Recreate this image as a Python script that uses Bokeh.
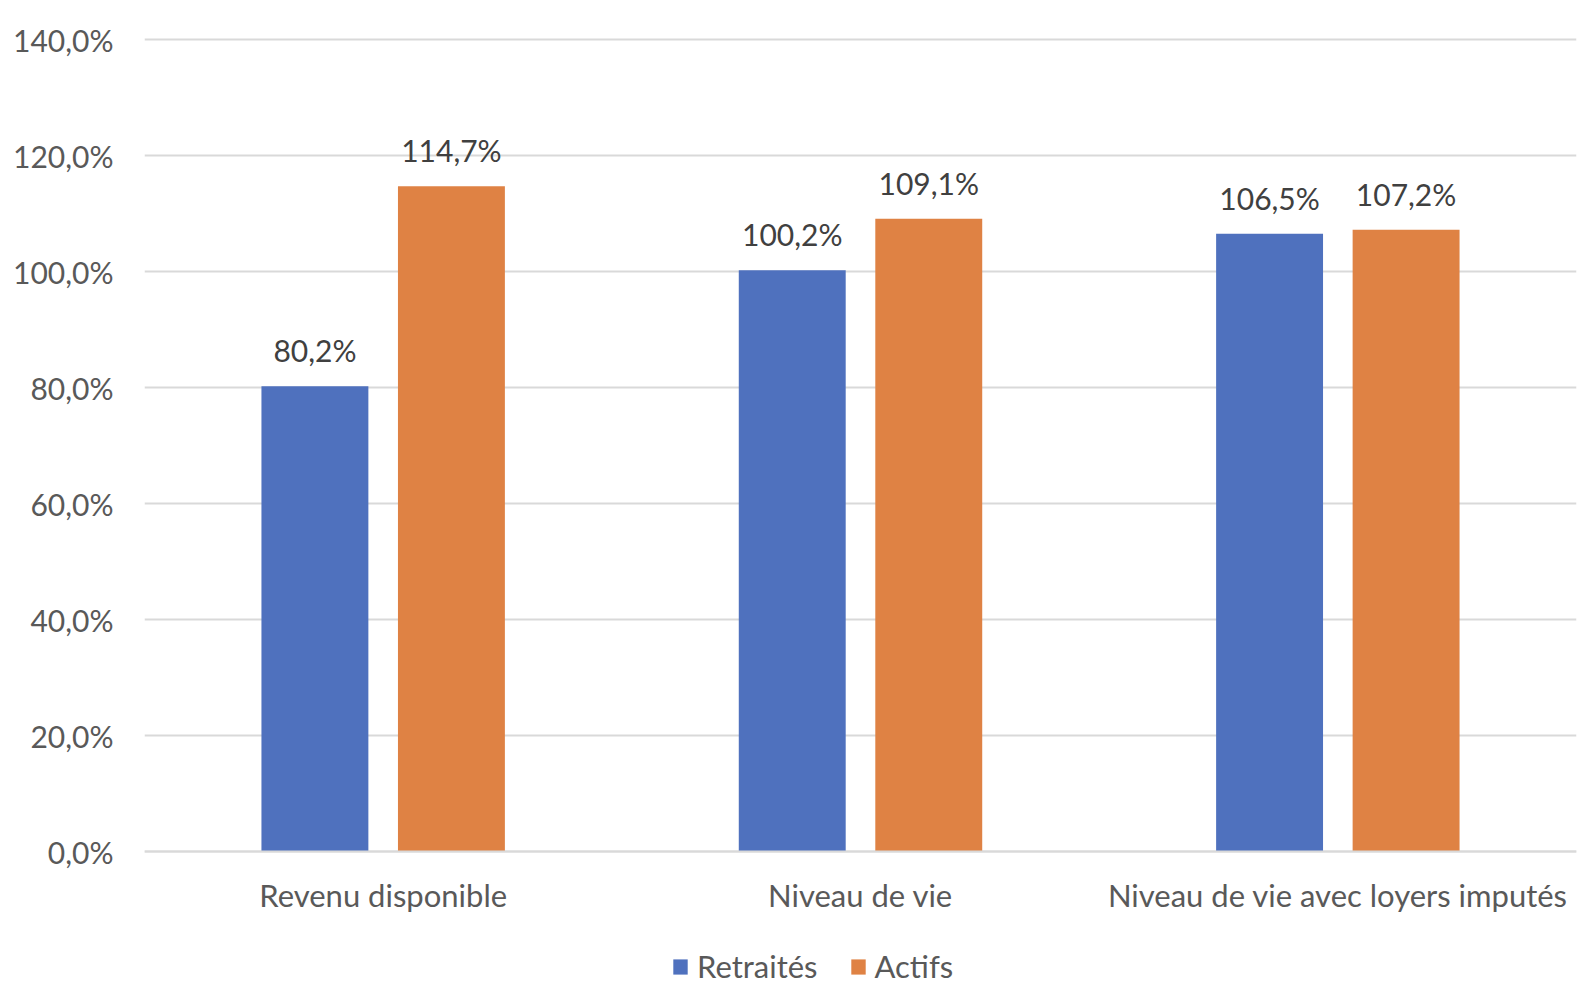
from bokeh.plotting import figure
from bokeh.models import (ColumnDataSource, FactorRange, FixedTicker, Legend, LegendItem,
                          Range1d)
from bokeh.transform import dodge
from bokeh.core.properties import value
from bokeh.embed import file_html
from bokeh.resources import INLINE

categories = ["Revenu disponible", "Niveau de vie", "Niveau de vie avec loyers imputés"]
series = ["Retraités", "Actifs"]
retraites = [80.2, 100.2, 106.5]
actifs = [114.7, 109.1, 107.2]
retraites_labels = ["80,2%", "100,2%", "106,5%"]
actifs_labels = ["114,7%", "109,1%", "107,2%"]
y_ticks = [0, 20, 40, 60, 80, 100, 120, 140]
y_tick_labels = ["0,0%", "20,0%", "40,0%", "60,0%", "80,0%", "100,0%", "120,0%", "140,0%"]

FONT = "Lato"
BLUE = "#4F71BE"
ORANGE = "#DF8244"

# pixel scale: 812 px for 140 units; frame extends below 0 to host labels + legend
FRAME_H = 960
PX_PER_UNIT = 812 / 140
Y_END = 140 + 2 / PX_PER_UNIT
Y_START = Y_END - FRAME_H / PX_PER_UNIT

src = ColumnDataSource(dict(cat=categories, r=retraites, a=actifs,
                            rl=retraites_labels, al=actifs_labels))

p = figure(x_range=FactorRange(*categories), y_range=Range1d(Y_START, Y_END),
           frame_width=1432, frame_height=FRAME_H, output_backend="svg", toolbar_location=None,
           min_border_left=144, min_border_right=4, min_border_top=37, min_border_bottom=0)
p.outline_line_color = None

rb = p.vbar(x=dodge("cat", -0.143, range=p.x_range), top="r", bottom=0, width=0.224,
            source=src, fill_color=BLUE, line_color=None)
ab = p.vbar(x=dodge("cat", 0.143, range=p.x_range), top="a", bottom=0, width=0.224,
            source=src, fill_color=ORANGE, line_color=None)

p.text(x=dodge("cat", -0.143, range=p.x_range), y="r", text="rl", source=src,
       text_align="center", text_baseline="bottom", y_offset=-18,
       text_font=value(FONT), text_font_size="30px", text_color="#404040")
p.text(x=dodge("cat", 0.143, range=p.x_range), y="a", text="al", source=src,
       text_align="center", text_baseline="bottom", y_offset=-18,
       text_font=value(FONT), text_font_size="30px", text_color="#404040")

p.yaxis.ticker = FixedTicker(ticks=y_ticks)
p.yaxis.major_label_overrides = {t: l for t, l in zip(y_ticks, y_tick_labels)}
p.yaxis.axis_line_color = None
p.yaxis.major_tick_line_color = None
p.yaxis.minor_tick_line_color = None
p.yaxis.major_label_standoff = 25
p.yaxis.major_label_text_font = FONT
p.yaxis.major_label_text_font_size = "30px"
p.yaxis.major_label_text_color = "#595959"

p.xaxis.fixed_location = 0
p.xaxis.axis_line_color = "#D9D9D9"
p.xaxis.axis_line_width = 2
p.xaxis.major_tick_line_color = None
p.xaxis.minor_tick_line_color = None
p.xaxis.major_label_standoff = 18
p.xaxis.major_label_text_font = FONT
p.xaxis.major_label_text_font_size = "31px"
p.xaxis.major_label_text_color = "#595959"

p.xgrid.grid_line_color = None
p.ygrid.grid_line_color = "#D9D9D9"
p.ygrid.grid_line_width = 2

legend = Legend(items=[LegendItem(label=series[0], renderers=[rb]),
                       LegendItem(label=series[1], renderers=[ab])],
                orientation="horizontal", location=(527, 12),
                label_text_font=FONT, label_text_font_size="31px", label_text_color="#595959",
                glyph_width=18, glyph_height=19, label_standoff=8, spacing=31,
                border_line_color=None, background_fill_alpha=0, margin=0, padding=0)
p.add_layout(legend, "center")

open("out.html", "w").write(file_html(p, INLINE))
